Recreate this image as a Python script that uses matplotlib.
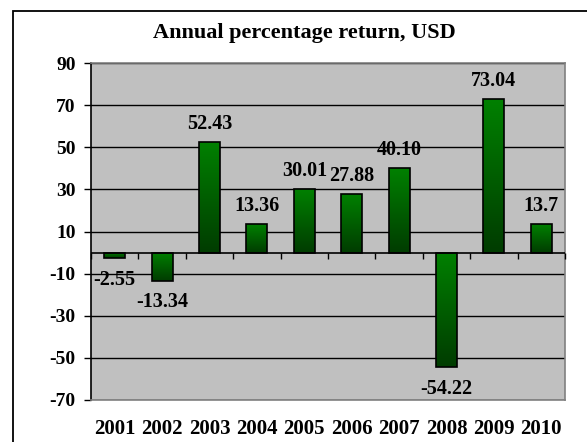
import matplotlib
matplotlib.use('Agg')

import matplotlib.pyplot as plt
import matplotlib.patches as patches
from matplotlib.colors import LinearSegmentedColormap
import numpy as np

years = ["2001", "2002", "2003", "2004", "2005", "2006", "2007", "2008", "2009", "2010"]
returns = [-2.55, -13.34, 52.43, 13.36, 30.01, 27.88, 40.10, -54.22, 73.04, 13.7]
labels = ["-2.55", "-13.34", "52.43", "13.36", "30.01", "27.88", "40.10", "-54.22", "73.04", "13.7"]
yticks = [-70, -50, -30, -10, 10, 30, 50, 70, 90]

plt.rcParams['font.family'] = ['Liberation Serif', 'DejaVu Serif']
plt.rcParams['font.weight'] = 'bold'

W, H = 587, 442
fig = plt.figure(figsize=(W / 100, H / 100), dpi=100)
ax = fig.add_axes([91 / W, 1 - 400 / H, (565 - 91) / W, (400 - 63) / H])

# outer chart frame (cut off at right/bottom like the original)
frame = patches.Rectangle((13 / W, -0.1), 1.2, 1.1 - 11 / H,
                          transform=fig.transFigure, fill=False,
                          edgecolor="black", linewidth=1.3)
fig.patches.append(frame)

ax.set_facecolor("#C0C0C0")

# gridlines
for y in yticks:
    ax.axhline(y, color="black", linewidth=1.0, zorder=1)

green = LinearSegmentedColormap.from_list("g", ["#003c00", "#008000"])
grad = np.linspace(0, 1, 100).reshape(-1, 1)

x = np.arange(len(years))
bars = ax.bar(x, returns, width=0.44, facecolor="none", edgecolor="black",
              linewidth=1.2, zorder=4)
for b, v in zip(bars, returns):
    x0 = b.get_x()
    x1 = x0 + b.get_width()
    lo, hi = min(0, v), max(0, v)
    im = ax.imshow(grad, extent=[x0, x1, lo, hi], origin="lower",
                   aspect="auto", cmap=green, zorder=3, interpolation="bilinear")
    im.set_clip_path(b)

ax.set_xlim(-0.5, len(years) - 0.5)
ax.set_ylim(-70, 90)

# zero axis with category boundary ticks
ax.axhline(0, color="black", linewidth=1.2, zorder=5)
bounds = np.arange(len(years) + 1) - 0.5
ax.vlines(bounds, -2.9, 0, color="black", linewidth=1.0, zorder=5, clip_on=False)

# data labels
for xi, v, t in zip(x, returns, labels):
    if v >= 0:
        ax.annotate(t, (xi, v), xytext=(0, 9.5), textcoords="offset points",
                    ha="center", va="baseline", fontsize=14.5, fontweight="bold", zorder=6)
    else:
        ax.annotate(t, (xi, v), xytext=(0, -8.5), textcoords="offset points",
                    ha="center", va="top", fontsize=14.5, fontweight="bold", zorder=6)

ax.set_yticks(yticks)
ax.set_yticklabels([str(v) for v in yticks], fontsize=14, fontweight="bold")
ax.tick_params(axis="y", direction="out", length=5, width=1, pad=6, color="black")

ax.set_xticks(x)
ax.set_xticklabels(years, fontsize=15, fontweight="bold")
ax.tick_params(axis="x", length=0, pad=14)

for s in ["top", "right", "bottom"]:
    ax.spines[s].set_color("#808080")
    ax.spines[s].set_linewidth(1.2)
ax.spines["left"].set_color("black")
ax.spines["left"].set_linewidth(1.2)

fig.text(304 / W, 1 - 33 / H, "Annual percentage return, USD", ha="center", va="center",
         fontsize=16, fontweight="bold")

fig.savefig("out.png", dpi=100, facecolor="white")
